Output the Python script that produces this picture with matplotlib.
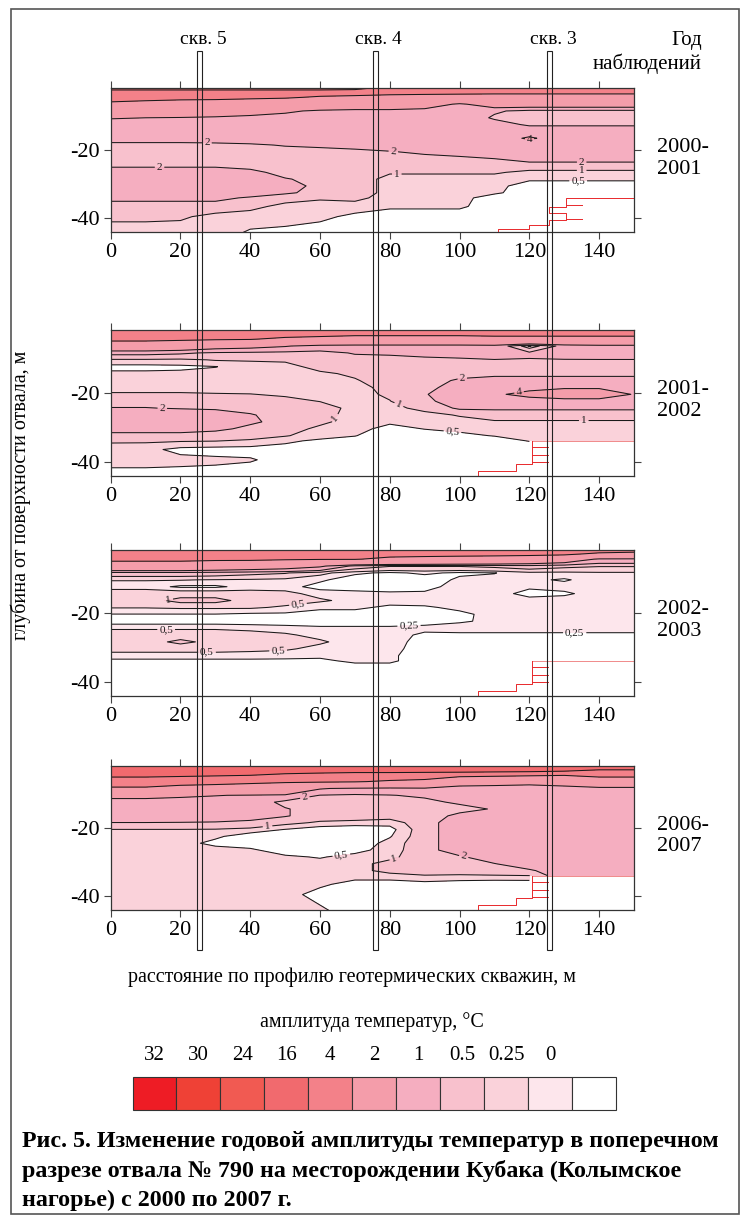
import numpy as np
import matplotlib
matplotlib.use("Agg")
import matplotlib.pyplot as plt
import matplotlib.transforms as mtransforms
from matplotlib.patches import Rectangle

plt.rcParams['font.family'] = ['Liberation Serif', 'DejaVu Serif']
plt.rcParams['axes.unicode_minus'] = False

W, H = 742, 1216

# grid of the section: distance along profile (m) and depth (m)
dist = [0, 10, 20, 30, 40, 50, 60, 70, 80, 90, 100, 110, 120, 130, 140, 150]
depth = [-1.85, -3, -4.5, -6.5, -8.5, -10.5, -12.5, -14.5, -16.5, -18.5, -20.5,
         -22.5, -24.5, -26.5, -28.5, -30.5, -32.5, -34, -36.5, -39.5, -44.1]

# annual temperature amplitude, deg C (rows = depth, cols = dist)
amp_2000 = [
    [27, 27, 27, 27, 27, 27, 27, 26, 21, 21, 21, 21, 21, 21, 21, 21],
    [20, 20, 20, 20, 20, 20, 20, 20, 19, 19, 19, 19, 19, 19, 19, 19],
    [20, 20, 19, 19, 18, 17, 15, 14, 13, 12, 11, 10, 10, 10, 10, 10],
    [14, 12, 11, 10, 9, 9, 8, 8, 8, 6, 3.5, 6, 6, 6, 6, 6],
    [8, 8, 8, 7, 6, 4.5, 3.5, 3, 3, 3, 3, 2.2, 1.6, 1.6, 1.6, 1.6],
    [4.2, 4.0, 3.8, 3.5, 3, 3, 3, 3, 3, 3, 3, 1.8, 1.5, 1.5, 1.5, 1.5],
    [2.9, 2.9, 2.9, 2.9, 2.9, 2.9, 2.9, 2.9, 2.9, 2.9, 2.9, 2.6, 1.8, 1.8, 1.8, 1.8],
    [2.9, 2.9, 2.9, 2.9, 2.9, 2.9, 2.9, 2.9, 2.9, 2.9, 2.9, 2.9, 2.9, 2.9, 2.9, 2.9],
    [2.9, 2.9, 2.9, 2.9, 2.9, 2.9, 2.9, 2.9, 2.9, 2.9, 2.9, 2.9, 4.3, 2.9, 2.9, 2.9],
    [1.5, 1.5, 1.5, 1.6, 1.8, 2.1, 2.3, 2.6, 2.9, 2.9, 2.9, 2.9, 2.9, 2.9, 2.9, 2.9],
    [1.5, 1.5, 1.5, 1.5, 1.5, 1.5, 1.5, 1.6, 1.9, 2.3, 2.6, 2.9, 2.9, 2.9, 2.9, 2.9],
    [1.5, 1.5, 1.5, 1.5, 1.5, 1.5, 1.5, 1.5, 1.5, 1.5, 1.7, 2.0, 2.5, 2.5, 2.5, 2.5],
    [1.7, 1.7, 1.7, 1.7, 1.5, 1.5, 1.5, 1.5, 1.5, 1.5, 1.5, 1.5, 1.5, 1.5, 1.5, 1.5],
    [2.9, 2.9, 2.9, 2.9, 2.4, 1.5, 1.6, 1.5, 1.1, 1.1, 1.1, 1.1, 0.8, 0.8, 0.8, 0.8],
    [2.9, 2.9, 2.9, 2.9, 2.9, 2.1, 1.6, 1.5, 0.7, 0.7, 0.7, 0.7, 0.6, 0.6, 0.6, 0.6],
    [2.9, 2.9, 2.9, 2.9, 2.9, 2.6, 1.6, 1.5, 0.7, 0.7, 0.7, 0.7, 0.2, 0.2, 0.2, 0.2],
    [2.9, 2.9, 2.9, 2.9, 2.9, 2.2, 1.6, 1.5, 0.7, 0.7, 0.7, 0.6, 0.2, 0.2, 0.2, 0.2],
    [2.4, 2.4, 2.4, 2.4, 1.8, 1.3, 1.1, 1.2, 0.7, 0.7, 0.7, 0.2, 0.2, 0.2, 0.2, 0.2],
    [1.4, 1.4, 1.4, 1.4, 1.2, 0.8, 0.7, 0.7, 0.6, 0.6, 0.6, 0.2, 0.2, 0.2, 0.2, 0.2],
    [1.15, 1.15, 1.1, 0.8, 0.7, 0.75, 0.6, 0.4, 0.2, 0.2, 0.2, 0.2, 0.2, 0.2, 0.2, 0.2],
    [0.7, 0.7, 0.7, 0.7, 0.45, 0.35, 0.3, 0.2, 0.2, 0.2, 0.2, 0.2, 0.2, 0.2, 0.2, 0.2],
]

amp_2001 = [
    [21, 21, 21, 21, 21, 21, 21, 21, 21, 21, 21, 21, 21, 21, 21, 21],
    [20, 20, 20, 20, 20, 20, 20, 19, 19, 19, 19, 19, 19, 19, 19, 19],
    [19, 19, 18, 17, 16.5, 14, 12, 10, 10, 10, 10, 12, 12, 12, 12, 12],
    [8, 8, 7, 5.5, 5, 4.2, 3, 3, 3, 3, 3, 3, 0.4, 2.5, 3, 3],
    [2.4, 2.4, 2.2, 1.8, 1.7, 1.6, 1.6, 2.1, 2.2, 2.6, 2.9, 2.9, 2.2, 2.6, 2.9, 2.9],
    [0.9, 0.9, 0.85, 1.05, 1.05, 1.1, 1.5, 1.6, 1.6, 1.6, 1.7, 1.95, 1.95, 1.95, 1.95, 1.95],
    [0.35, 0.35, 0.4, 0.48, 0.8, 0.8, 1.2, 1.5, 1.5, 1.5, 1.5, 1.5, 1.5, 1.5, 1.5, 1.5],
    [0.6, 0.6, 0.6, 0.7, 0.7, 0.7, 0.9, 1.1, 1.4, 1.4, 1.5, 1.6, 1.6, 1.6, 1.6, 1.6],
    [0.7, 0.7, 0.7, 0.7, 0.7, 0.7, 0.7, 0.95, 1.3, 1.4, 2.2, 2.6, 2.6, 2.6, 2.6, 2.6],
    [0.7, 0.7, 0.7, 0.7, 0.7, 0.7, 0.7, 0.8, 1.2, 1.6, 2.6, 2.9, 3.2, 3.6, 3.6, 3.2],
    [1.1, 1.1, 1.1, 1.05, 1.02, 0.9, 0.8, 0.8, 1.1, 1.9, 2.9, 3.6, 4.8, 6, 6, 3.8],
    [1.5, 1.5, 1.5, 1.5, 1.5, 1.2, 0.98, 0.8, 0.98, 1.6, 2.9, 2.9, 2.9, 2.9, 2.9, 2.9],
    [2.05, 2.05, 1.9, 1.8, 1.6, 1.5, 1.3, 0.8, 0.8, 1.2, 2.2, 2.2, 2.2, 2.2, 2.2, 2.2],
    [2.9, 2.9, 2.9, 2.7, 2.1, 1.5, 1.2, 0.8, 0.7, 0.8, 1.05, 1.4, 1.4, 1.4, 1.4, 1.4],
    [2.9, 2.9, 2.9, 2.9, 2.2, 1.6, 1.1, 0.8, 0.6, 0.7, 0.8, 0.9, 0.9, 0.9, 0.9, 0.9],
    [2.9, 2.9, 2.9, 2.3, 1.7, 1.2, 0.9, 0.7, 0.3, 0.52, 0.6, 0.7, 0.7, 0.7, 0.7, 0.7],
    [1.3, 1.3, 1.3, 1.4, 1.3, 1.05, 0.7, 0.52, 0.2, 0.2, 0.4, 0.52, 0.6, 0.7, 0.7, 0.7],
    [1.1, 1.1, 1.05, 1.02, 0.9, 0.6, 0.4, 0.3, 0.2, 0.2, 0.2, 0.3, 0.52, 0.7, 0.7, 0.7],
    [0.7, 0.65, 0.35, 0.3, 0.3, 0.3, 0.2, 0.2, 0.2, 0.2, 0.2, 0.2, 0.2, 0.2, 0.2, 0.2],
    [0.7, 0.7, 0.65, 0.6, 0.55, 0.3, 0.2, 0.2, 0.2, 0.2, 0.2, 0.2, 0.2, 0.2, 0.2, 0.2],
    [0.3, 0.3, 0.3, 0.3, 0.2, 0.2, 0.2, 0.2, 0.2, 0.2, 0.2, 0.2, 0.2, 0.2, 0.2, 0.2],
]

amp_2002 = [
    [21, 21, 21, 21, 21, 21, 21, 21, 21, 21, 21, 21, 21, 21, 21, 21],
    [20, 20, 20, 20, 20, 20, 20, 20, 19, 19, 19, 19, 19, 18, 14, 12],
    [19, 19, 19, 18, 18, 17, 16.5, 16.5, 14, 13, 12, 11, 9, 7, 3.5, 3.5],
    [9, 9, 9, 8, 7, 6, 4.5, 1.5, 1.05, 1.05, 1.05, 1.2, 1.5, 1.2, 1.05, 1.05],
    [1.5, 1.5, 1.5, 1.4, 1.2, 1.05, 0.6, 0.3, 0.2, 0.3, 0.2, 0.24, 0.4, 0.4, 0.45, 0.45],
    [0.52, 0.52, 0.52, 0.48, 0.45, 0.4, 0.3, 0.1, 0.1, 0.1, 0.3, 0.32, 0.3, 0.22, 0.37, 0.37],
    [0.37, 0.37, 0.2, 0.2, 0.35, 0.35, 0.15, 0.1, 0.1, 0.15, 0.37, 0.37, 0.3, 0.35, 0.37, 0.37],
    [0.7, 0.7, 0.7, 0.7, 0.65, 0.6, 0.38, 0.35, 0.3, 0.3, 0.37, 0.37, 0.15, 0.2, 0.37, 0.37],
    [0.75, 0.75, 1.2, 1.2, 0.75, 0.65, 0.55, 0.4, 0.35, 0.35, 0.37, 0.37, 0.35, 0.37, 0.37, 0.37],
    [0.52, 0.52, 0.55, 0.55, 0.55, 0.45, 0.3, 0.3, 0.2, 0.22, 0.3, 0.37, 0.37, 0.37, 0.37, 0.37],
    [0.24, 0.24, 0.24, 0.24, 0.2, 0.2, 0.15, 0.15, 0.1, 0.1, 0.2, 0.32, 0.37, 0.37, 0.37, 0.37],
    [0.1, 0.1, 0.1, 0.1, 0.1, 0.1, 0.1, 0.1, 0.1, 0.15, 0.22, 0.3, 0.37, 0.37, 0.37, 0.37],
    [0.45, 0.45, 0.45, 0.45, 0.4, 0.35, 0.3, 0.3, 0.3, 0.32, 0.35, 0.35, 0.35, 0.35, 0.35, 0.35],
    [0.7, 0.7, 0.7, 0.7, 0.65, 0.55, 0.4, 0.35, 0.35, 0.2, 0.2, 0.2, 0.2, 0.2, 0.2, 0.2],
    [0.75, 0.75, 1.15, 0.8, 0.7, 0.65, 0.55, 0.35, 0.35, 0.15, 0.1, 0.1, 0.1, 0.1, 0.1, 0.1],
    [0.65, 0.65, 0.65, 0.65, 0.6, 0.55, 0.4, 0.35, 0.35, 0.1, 0.1, 0.1, 0.1, 0.1, 0.1, 0.1],
    [0.35, 0.35, 0.35, 0.35, 0.35, 0.33, 0.3, 0.3, 0.3, 0.1, 0.1, 0.1, 0.1, 0.1, 0.1, 0.1],
    [0.2, 0.2, 0.2, 0.2, 0.2, 0.2, 0.2, 0.3, 0.3, 0.1, 0.1, 0.1, 0.1, 0.1, 0.1, 0.1],
    [0.1, 0.1, 0.1, 0.1, 0.1, 0.1, 0.1, 0.1, 0.1, 0.1, 0.1, 0.1, 0.1, 0.1, 0.1, 0.1],
    [0.1, 0.1, 0.1, 0.1, 0.1, 0.1, 0.1, 0.1, 0.1, 0.1, 0.1, 0.1, 0.1, 0.1, 0.1, 0.1],
    [0.1, 0.1, 0.1, 0.1, 0.1, 0.1, 0.1, 0.1, 0.1, 0.1, 0.1, 0.1, 0.1, 0.1, 0.1, 0.1],
]

amp_2006 = [
    [28, 28, 28, 28, 28, 28, 28, 28, 28, 28, 28, 28, 28, 28, 28, 28],
    [28, 28, 28, 28, 28, 28, 28, 28, 28, 28, 28, 28, 28, 27, 24.2, 24.2],
    [26, 26, 25.5, 25, 24.5, 23, 22, 21, 21, 20.5, 20, 19, 18, 17, 19, 19],
    [20, 20, 19.5, 19, 18, 17, 17, 16.5, 15, 14, 6, 5.5, 5, 6, 10, 10],
    [15, 15, 13, 12, 11, 10, 4.2, 3.5, 3.2, 3.5, 2.9, 2.9, 2.9, 2.9, 2.9, 2.9],
    [5, 5, 4.5, 4.1, 3.8, 3.5, 1.95, 1.8, 1.95, 2.2, 2.9, 2.9, 2.9, 2.9, 2.9, 2.9],
    [2.9, 2.9, 2.9, 2.9, 2.9, 1.6, 1.4, 1.4, 1.4, 1.7, 2.2, 2.9, 2.9, 2.9, 2.9, 2.9],
    [2.9, 2.9, 2.9, 2.9, 2.9, 2.1, 1.4, 1.4, 1.4, 1.4, 1.6, 2.1, 2.9, 2.9, 2.9, 2.9],
    [2.9, 2.9, 2.9, 2.8, 2.6, 2.1, 1.4, 1.4, 1.3, 1.4, 2.3, 2.9, 2.9, 2.9, 2.9, 2.9],
    [1.98, 1.98, 1.95, 1.9, 1.7, 1.2, 0.9, 0.8, 0.7, 1.4, 2.9, 2.9, 2.9, 2.9, 2.9, 2.9],
    [0.98, 0.98, 0.98, 0.95, 0.8, 0.48, 0.2, 0.1, 0.3, 1.4, 2.9, 2.9, 2.9, 2.9, 2.9, 2.9],
    [0.7, 0.7, 0.7, 0.6, 0.2, 0.1, 0.1, 0.1, 0.45, 1.4, 2.9, 2.9, 2.9, 2.9, 2.9, 2.9],
    [0.7, 0.7, 0.7, 0.35, 0.2, 0.1, 0.1, 0.1, 0.7, 1.4, 2.9, 2.9, 2.9, 2.9, 2.9, 2.9],
    [0.7, 0.7, 0.7, 0.7, 0.6, 0.2, 0.1, 0.3, 0.75, 1.4, 2.9, 2.9, 2.9, 2.9, 2.9, 2.9],
    [0.7, 0.7, 0.7, 0.7, 0.7, 0.6, 0.45, 0.7, 0.85, 1.4, 1.8, 2.9, 2.9, 2.9, 2.9, 2.9],
    [0.7, 0.7, 0.7, 0.7, 0.7, 0.7, 0.7, 0.8, 1.2, 1.4, 1.4, 1.95, 2.9, 2.9, 2.9, 2.9],
    [0.7, 0.7, 0.7, 0.7, 0.7, 0.7, 0.7, 0.8, 1.2, 1.4, 1.4, 1.4, 1.8, 2.9, 2.9, 2.9],
    [0.7, 0.7, 0.7, 0.7, 0.7, 0.7, 0.7, 0.7, 0.8, 0.95, 0.9, 0.95, 0.98, 2.9, 2.9, 2.9],
    [0.7, 0.7, 0.7, 0.7, 0.7, 0.7, 0.6, 0.3, 0.2, 0.3, 0.2, 0.1, 0.1, 0.1, 0.1, 0.1],
    [0.7, 0.7, 0.7, 0.7, 0.7, 0.7, 0.3, 0.1, 0.1, 0.1, 0.1, 0.1, 0.1, 0.1, 0.1, 0.1],
    [0.7, 0.7, 0.7, 0.7, 0.7, 0.7, 0.6, 0.2, 0.1, 0.1, 0.1, 0.1, 0.1, 0.1, 0.1, 0.1],
]

years = ['2000-\n2001', '2001-\n2002', '2002-\n2003', '2006-\n2007']

# boundary of the dump base (red step line)
base1_x = [150, 130.5, 130.5, 125.5, 125.5, 130.5, 130.5, 125.5, 125.5, 120, 120, 111, 111]
base1_y = [-34.1, -34.1, -36.6, -36.6, -38.5, -38.5, -40.6, -40.6, -42, -42, -43, -43, -44.1]
base_x = [120.8, 120.8, 116.2, 116.2, 105.4, 105.4]
base_y = [-34, -40.6, -40.6, -42.6, -42.6, -44.1]
spur_y = [-35.9, -38.2, -40.1]

wells = [25.5, 75.8, 125.8]
well_names = ['скв. 5', 'скв. 4', 'скв. 3']

fill_levels = [0, 0.25, 0.5, 1, 2, 4, 16, 24, 30, 32, 100]
fill_colors = ['#FFFFFF', '#FDE6EC', '#FAD2DA', '#F8C1CD', '#F5AEC0',
               '#F49DAA', '#F38189', '#F16A6E', '#F15A52', '#EF4136']
fmt = {0.25: '0,25', 0.5: '0,5', 1: '1', 2: '2', 4: '4', 16: '16', 24: '24'}

legend_vals = ['32', '30', '24', '16', '4', '2', '1', '0.5', '0.25', '0']
legend_colors = ['#EE1C25', '#EF4136', '#F15A52', '#F16A6E', '#F38189', '#F49DAA',
                 '#F5AEC0', '#F8C1CD', '#FAD2DA', '#FDE6EC', '#FFFFFF']

caption = ['Рис. 5. Изменение годовой амплитуды температур в поперечном',
           'разрезе отвала № 790 на месторождении Кубака (Колымское',
           'нагорье) с 2000 по 2007 г.']


def fx(px):
    return px / W


def fy(py):
    return 1 - py / H


panels = [
    dict(z=amp_2000, top=88.3, bot=232.3, pale=False, mask=False,
         lines=[0.5, 1, 2, 4, 16, 24],
         lab=[(27.6, -17.9), (81, -20.5), (135, -23.5), (82, -27), (135, -26),
              (134, -29.2), (14, -25.2), (120, -16.5)]),
    dict(z=amp_2001, top=330, bot=475.7, pale=False, mask=True,
         lines=[0.5, 1, 2, 4, 16],
         lab=[(14.8, -24.3), (64.5, -27.5), (82.4, -24), (98, -31), (135.6, -28),
              (100.8, -16.4), (117, -19.6)]),
    dict(z=amp_2002, top=550, bot=695.7, pale=True, mask=True,
         lines=[0.25, 0.5, 1, 2, 4, 16],
         lab=[(16.4, -15.7), (53.7, -17.8), (85.5, -23.6), (133, -25.6),
              (15.9, -25), (27.6, -29), (48, -30.8)]),
    dict(z=amp_2006, top=765.7, bot=910.3, pale=False, mask=True,
         lines=[0.5, 1, 2, 4, 16, 24],
         lab=[(55.8, -12.2), (45, -20), (66, -27), (81.4, -29.5), (101.3, -27.8)]),
]

fig = plt.figure(figsize=(W / 100, H / 100), dpi=100)
X, Y = np.meshgrid(dist, depth)

axes = []
for i, p in enumerate(panels):
    ax = fig.add_axes([fx(110.7), fy(p['bot']), fx(634) - fx(110.7), (p['bot'] - p['top']) / H])
    axes.append(ax)
    Z = np.array(p['z'], dtype=float)
    if p['mask']:
        Z = np.ma.masked_where((X > 120) & (Y < -34), Z)
    cols = list(fill_colors)
    if not p['pale']:
        cols[1] = '#FFFFFF'
    ax.contourf(X, Y, Z, levels=fill_levels, colors=cols, corner_mask=False)
    cs = ax.contour(X, Y, Z, levels=p['lines'], colors='#1a1a1a', linewidths=0.75,
                    corner_mask=False)
    lab_levels = [l for l in p['lines'] if l <= 4]
    ax.clabel(cs, levels=lab_levels, manual=p['lab'], fmt=fmt, fontsize=8,
              inline=True, inline_spacing=2)
    if i == 0:
        ax.plot(base1_x, base1_y, color='#E8282B', lw=0.7)
        for yy in [-36.1, -40.2]:
            ax.plot([130.5, 135], [yy, yy], color='#E8282B', lw=0.7)
    else:
        ax.plot([120.8, 150], [-34, -34], color='#F08A8A', lw=0.7)
        ax.plot(base_x, base_y, color='#E8282B', lw=0.7)
        for yy in spur_y:
            ax.plot([120.8, 125.4], [yy, yy], color='#E8282B', lw=0.7)
    ax.set_xlim(0, 150)
    ax.set_ylim(-44.1, -1.85)
    ax.set_xticks(range(0, 141, 20))
    ax.set_yticks([-20, -40])
    ax.tick_params(direction='out', length=5, width=0.8, color='#444',
                   top=True, right=True, labeltop=False, labelright=False,
                   labelsize=16, pad=3)
    for s in ax.spines.values():
        s.set_color('#333')
        s.set_linewidth(0.9)
    fig.text(fx(657), fy((p['top'] + p['bot']) / 2 - 2), years[i], ha='left',
             va='center', fontsize=16, linespacing=1.2)

# wells drawn through all sections
trans = mtransforms.blended_transform_factory(axes[0].transData, fig.transFigure)
for wx, name in zip(wells, well_names):
    fig.add_artist(Rectangle((wx - 0.7, fy(950)), 1.4, fy(51) - fy(950), transform=trans,
                             fill=False, ec='#222', lw=0.8, zorder=20))
    fig.text(wx + 1, fy(40), name, transform=trans, ha='center', va='center', fontsize=14)

fig.text(fx(702), fy(40), 'Год', ha='right', va='center', fontsize=15)
fig.text(fx(702), fy(64), 'наблюдений', ha='right', va='center', fontsize=15)
fig.text(fx(21), fy(495), 'глубина от поверхности отвала, м', rotation=90,
         ha='center', va='center', fontsize=14.5)
fig.text(fx(352), fy(977), 'расстояние по профилю геотермических скважин, м',
         ha='center', va='center', fontsize=14.5)
fig.text(fx(372), fy(1022), 'амплитуда температур, °C', ha='center', va='center',
         fontsize=14.5)

# legend bar
ax_cb = fig.add_axes([fx(132.5), fy(1110), (616 - 132.5) / W, 33 / H])
ax_cb.bar(np.arange(len(legend_colors)), np.ones(len(legend_colors)), width=1,
          color=legend_colors, edgecolor='#333', linewidth=0.8, clip_on=False)
ax_cb.set_xlim(-0.5, len(legend_colors) - 0.5)
ax_cb.set_ylim(0, 1)
ax_cb.axis('off')
for i, v in enumerate(legend_vals):
    ax_cb.text(i, 1 + 22 / 33, v, ha='center', va='center', fontsize=15)

for k, line in enumerate(caption):
    fig.text(fx(22), fy(1141 + 29.5 * k), line, ha='left', va='center',
             fontsize=17.3, fontweight='bold')

fig.add_artist(Rectangle((fx(11), fy(1214)), (739 - 11) / W, (1214 - 9) / H,
                         transform=fig.transFigure, fill=False, ec='#555', lw=1.2))

fig.savefig('out.png', dpi=100)
